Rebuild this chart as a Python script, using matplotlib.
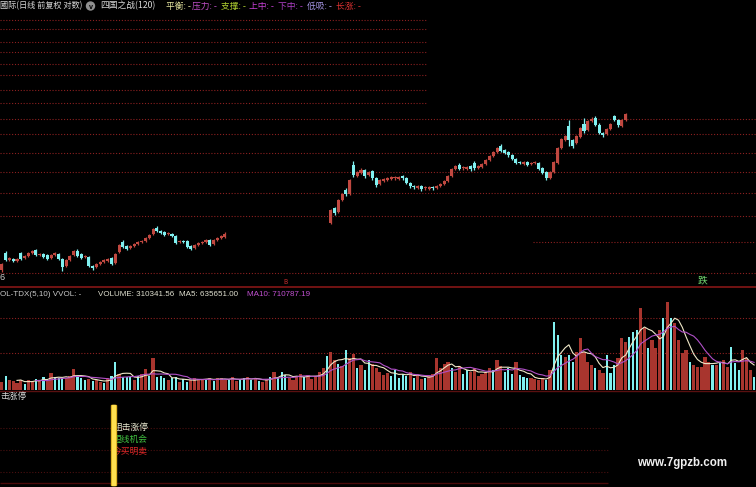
import numpy as np
import pandas as pd
import matplotlib
matplotlib.use('Agg')
import matplotlib.pyplot as plt
from matplotlib.patches import Rectangle

plt.rcParams['font.family'] = ['Noto Sans CJK SC', 'DejaVu Sans']
plt.rcParams['axes.unicode_minus'] = False

# ---- data ----
n_bars = 200
seg1_start = 0
seg2_start = 87

seg1_open = [3.0, 4.7, 4.0, 4.1, 3.9, 4.7, 4.2, 4.4, 4.7, 5.0, 4.5, 4.6, 4.5, 4.2, 4.5,
             4.6, 4.1, 3.4, 4.0, 4.5, 4.9, 4.6, 4.3, 4.3, 3.4, 3.3, 3.6, 3.8, 3.9, 4.2,
             3.7, 4.8, 5.8, 5.4, 5.2, 5.4, 5.6, 5.8, 5.9, 6.2, 6.6, 7.2, 6.9, 6.8, 6.6,
             6.6, 6.4, 5.8, 5.9, 5.9, 5.4, 5.2, 5.5, 5.7, 5.8, 6.0, 5.6, 6.0, 6.2, 6.3]
seg1_close = [3.6, 4.0, 4.2, 3.9, 4.1, 4.1, 4.4, 4.7, 4.9, 4.5, 4.6, 4.3, 4.1, 4.5, 4.7,
              4.1, 3.3, 4.0, 4.4, 4.9, 4.4, 4.2, 4.4, 3.4, 3.2, 3.6, 3.8, 4.0, 4.1, 3.6,
              4.6, 5.5, 5.3, 5.1, 5.4, 5.6, 5.8, 5.9, 6.2, 6.5, 7.1, 6.9, 6.7, 6.5, 6.7,
              6.4, 5.7, 5.9, 5.8, 5.3, 5.1, 5.5, 5.7, 5.8, 6.0, 5.5, 6.0, 6.2, 6.4, 6.6]
seg1_high = [3.7, 4.9, 4.3, 4.2, 4.2, 4.8, 4.5, 4.8, 5.0, 5.1, 4.7, 4.7, 4.6, 4.6, 4.8,
             4.7, 4.2, 4.1, 4.5, 5.0, 5.1, 4.7, 4.5, 4.4, 3.5, 3.7, 3.9, 4.1, 4.2, 4.3,
             4.7, 5.6, 6.0, 5.5, 5.5, 5.7, 5.9, 6.0, 6.3, 6.6, 7.2, 7.4, 7.0, 6.9, 6.8,
             6.7, 6.5, 6.0, 6.0, 6.0, 5.5, 5.6, 5.8, 5.9, 6.1, 6.1, 6.1, 6.3, 6.5, 6.8]
seg1_low = [2.8, 3.9, 3.9, 3.8, 3.8, 4.0, 4.1, 4.3, 4.6, 4.4, 4.4, 4.2, 4.0, 4.1, 4.4,
            4.0, 2.9, 3.3, 3.9, 4.4, 4.3, 4.1, 4.2, 3.3, 3.0, 3.2, 3.5, 3.7, 3.8, 3.5,
            3.6, 4.7, 5.2, 5.0, 5.1, 5.3, 5.5, 5.7, 5.8, 6.1, 6.5, 6.8, 6.6, 6.4, 6.5,
            6.3, 5.6, 5.7, 5.7, 5.2, 5.0, 5.1, 5.4, 5.6, 5.7, 5.4, 5.5, 5.9, 6.1, 6.2]

seg2_open = [7.7, 9.2, 8.8, 10.0, 11.0, 10.6, 13.5, 12.4, 12.7, 13.0, 12.5, 12.9, 12.2, 11.6,
             11.9, 12.0, 12.1, 12.2, 12.1, 12.4, 12.2, 11.7, 11.4, 11.2, 11.4, 11.2, 11.1,
             11.3, 11.2, 11.4, 11.6, 11.9, 12.4, 13.1, 13.5, 13.2, 13.1, 13.4, 13.7, 13.2,
             13.3, 13.6, 14.0, 14.4, 14.8, 15.4, 15.0, 14.8, 14.5, 14.1, 13.8, 13.6, 13.8,
             13.6, 13.7, 13.7, 13.2, 12.8, 12.2, 12.8, 13.7, 15.2, 16.0, 17.4, 16.0, 15.7,
             16.3, 17.6, 17.0, 17.9, 18.2, 17.5, 16.7, 16.6, 17.1, 18.4, 18.0, 17.4, 18.0]
seg2_close = [9.0, 8.7, 10.0, 10.6, 10.6, 12.0, 12.5, 12.8, 13.0, 12.4, 12.8, 12.2, 11.5, 12.0,
              12.1, 12.2, 12.3, 12.2, 12.3, 12.2, 11.7, 11.4, 11.3, 11.4, 11.1, 11.2, 11.3,
              11.2, 11.4, 11.6, 11.9, 12.4, 13.1, 13.4, 13.1, 13.2, 13.3, 13.1, 13.2, 13.4,
              13.6, 14.0, 14.4, 14.8, 15.2, 14.9, 14.7, 14.5, 14.1, 13.7, 13.7, 13.8, 13.5,
              13.7, 13.8, 13.1, 12.7, 12.2, 12.8, 13.8, 15.2, 16.1, 16.4, 16.0, 15.4, 16.4,
              17.2, 16.9, 17.9, 18.1, 17.5, 16.7, 16.5, 17.1, 17.6, 18.0, 17.5, 18.0, 18.6]
seg2_high = [9.1, 9.3, 10.1, 10.7, 11.2, 12.1, 13.9, 12.9, 13.2, 13.1, 12.9, 13.0, 12.3, 12.1,
             12.2, 12.3, 12.4, 12.4, 12.4, 12.5, 12.3, 11.8, 11.5, 11.5, 11.5, 11.4, 11.4,
             11.4, 11.5, 11.7, 12.0, 12.5, 13.2, 13.5, 13.7, 13.4, 13.4, 13.5, 13.9, 13.5,
             13.7, 14.1, 14.5, 14.9, 15.3, 15.6, 15.1, 14.9, 14.6, 14.2, 13.9, 13.9, 13.9,
             13.8, 13.9, 13.8, 13.3, 12.9, 12.9, 13.9, 15.3, 16.2, 16.5, 18.0, 16.1, 16.5,
             17.3, 18.2, 18.0, 18.3, 18.4, 17.7, 16.8, 17.2, 17.7, 18.5, 18.1, 18.1, 18.7]
seg2_low = [7.6, 8.5, 8.7, 9.9, 10.4, 10.5, 12.3, 12.3, 12.6, 12.2, 12.4, 12.0, 11.3, 11.5,
            11.8, 11.9, 12.0, 12.0, 12.0, 12.0, 11.6, 11.2, 11.1, 11.1, 10.9, 11.0, 11.0,
            11.0, 11.1, 11.3, 11.5, 11.8, 12.3, 13.0, 13.0, 13.0, 13.0, 12.9, 13.0, 13.1,
            13.2, 13.5, 13.9, 14.3, 14.7, 14.8, 14.6, 14.3, 14.0, 13.6, 13.6, 13.5, 13.4,
            13.5, 13.6, 13.0, 12.6, 12.0, 12.1, 12.7, 13.6, 15.1, 15.9, 15.4, 15.2, 15.6,
            16.2, 16.7, 16.9, 17.8, 17.4, 16.6, 16.3, 16.5, 17.0, 17.9, 17.3, 17.3, 17.9]

volume = [8, 14, 10, 9, 7, 10, 6, 10, 9, 11, 10, 13, 9, 17, 13, 12, 12, 12, 14, 21,
          13, 12, 10, 11, 9, 10, 8, 7, 12, 14, 28, 16, 13, 13, 13, 10, 14, 16, 21, 14,
          32, 13, 14, 12, 10, 12, 13, 8, 11, 8, 10, 12, 11, 11, 10, 12, 9, 12, 12, 10,
          10, 13, 9, 11, 12, 13, 10, 12, 9, 8, 11, 13, 18, 12, 18, 15, 12, 10, 14, 16,
          13, 15, 11, 14, 18, 22, 34, 38, 30, 26, 24, 40, 32, 36, 22, 25, 20, 30, 26, 22,
          18, 15, 17, 14, 20, 12, 16, 14, 18, 12, 15, 11, 12, 14, 16, 32, 22, 26, 28, 22,
          18, 24, 16, 20, 18, 22, 14, 16, 18, 22, 20, 30, 24, 18, 22, 16, 28, 15, 13, 12,
          12, 11, 10, 12, 10, 20, 68, 55, 35, 33, 35, 28, 38, 52, 38, 28, 25, 22, 20, 17,
          35, 17, 25, 32, 52, 48, 53, 58, 60, 82, 62, 42, 50, 42, 60, 72, 88, 72, 67, 50,
          37, 40, 28, 25, 23, 23, 33, 28, 25, 25, 28, 30, 23, 43, 27, 20, 40, 32, 20, 13]
volume_dir = ("rcrrrrcrrcrcrrcccrrrcccrcrrcrcc" "rcccrcrrcrccc" "rcc" "rccrrrrcrcrr"
              "rcrrcc" "rcrcrrcrcccrrr" "rcrrrr" "rcrrcrcrrcrccrrrrrcccccrcrrcr"
              "rrrrrcrrcc" "rrrrrrcrrcccrcccrrrrcrcccrcc" "rrrrrcrrcc"
              "crrrcccr" "rcrrrcrcrrrrcrrrrrcrcrrc" "ccrrrccrccrccrcccrc")

header_parts = [("國际(日线 前复权 对数)", '#d8d8d8'), ("四国之战(120)", '#d8d8d8'),
                ("平衡: -", '#e8e8a0'), ("压力: -", '#c050c8'), ("支撑: -", '#b0d030'),
                ("上中: -", '#c840d8'), ("下中: -", '#b040c8'), ("低吸: -", '#a898e8'),
                ("长涨: -", '#d83030')]
vol_header = [("OL-TDX(5,10) VVOL: -", '#c8c8c8'), ("VOLUME: 310341.56", '#e0e0d0'),
              ("MA5: 635651.00", '#e0e0d0'), ("MA10: 710787.19", '#c050d0')]
signal_texts = [("阻击涨停", '#e8e8d0'), ("短线机会", '#40c040'), ("今买明卖", '#e02828')]

levels_left = [28.0, 27.1, 25.8, 24.8, 23.6, 22.5, 21.0, 19.7]
levels_full = [18.1, 16.6, 14.7, 12.8, 10.7, 8.4, 2.7]
levels_right = [5.8]
vol_levels = [72, 37]

# ---- layout ----
W, H = 756, 487
fig = plt.figure(figsize=(W / 100, H / 100), dpi=100, facecolor='black')


def px_axes(x0, y0, x1, y1):
    a = fig.add_axes([x0 / W, 1 - y1 / H, (x1 - x0) / W, (y1 - y0) / H])
    a.set_facecolor('none')
    a.axis('off')
    return a


ax_k = px_axes(0, 0, W, 287)
ax_v = px_axes(0, 288, W, 390)
ax_o = px_axes(0, 0, W, H)
ax_o.set_xlim(0, W)
ax_o.set_ylim(H, 0)

UP = '#c04840'
DOWN = '#80f0f0'

# ---- price panel ----
ax_k.set_xlim(-0.5, n_bars - 0.5)
ax_k.set_ylim(1.3, 30.0)
dots = (0, (1, 1.6))
ax_k.hlines(levels_left, -0.5, 112.5, colors='#8c2020', linestyles=dots, lw=0.8)
ax_k.hlines(levels_full, -0.5, n_bars - 0.5, colors='#8c2020', linestyles=dots, lw=0.8)
ax_k.hlines(levels_right, 140.5, n_bars - 0.5, colors='#8c2020', linestyles=dots, lw=0.8)

for start, o, c, hi, lo in [(seg1_start, seg1_open, seg1_close, seg1_high, seg1_low),
                            (seg2_start, seg2_open, seg2_close, seg2_high, seg2_low)]:
    o, c, hi, lo = map(np.array, (o, c, hi, lo))
    x = np.arange(start, start + len(o))
    col = np.where(c >= o, UP, DOWN)
    ax_k.vlines(x, lo, hi, colors=col, lw=0.9, zorder=3)
    body = np.maximum(np.abs(c - o), 0.08)
    ax_k.bar(x, body, bottom=np.minimum(o, c), width=0.8, color=col, lw=0, zorder=4)

# ---- volume panel ----
vol = np.array(volume)
xv = np.arange(n_bars)
up = np.array([ch == 'r' for ch in volume_dir[:n_bars]])
ax_v.set_xlim(-0.5, n_bars - 0.5)
ax_v.set_ylim(0, 102)
ax_v.hlines(vol_levels, -0.5, n_bars - 0.5, colors='#8c2020', linestyles=dots, lw=0.8)
ax_v.bar(xv[up], vol[up], width=0.85, color='#a8352e', lw=0, zorder=3)
ax_v.bar(xv[~up], vol[~up], width=0.55, color=DOWN, lw=0, zorder=3)
s = pd.Series(vol, dtype=float)
ax_v.plot(xv, s.rolling(5).mean(), color='#f0e8c8', lw=0.8, zorder=4)
ax_v.plot(xv, s.rolling(10).mean(), color='#b050c8', lw=0.8, zorder=4)

# ---- overlay: separators, texts, signal panel ----
ax_o.axhline(287, color='#7a1414', lw=1.3)
ax_o.axhline(390.5, color='#5a1010', lw=1.0)
for yy in [428, 450, 472]:
    ax_o.hlines(yy, 0, 608, colors='#4a1010', linestyles=dots, lw=0.8)
ax_o.hlines(483, 0, 608, colors='#4a0a0a', lw=1.0)

hx = [0, 100, 166, 192, 221, 249, 278, 307, 336]
hs = [5.9, 6.3, 6.3, 6.3, 6.3, 6.3, 6.3, 6.3, 6.3]
for (txt, col), x0, fs in zip(header_parts, hx, hs):
    ax_o.text(x0, 6, txt, color=col, fontsize=fs, va='center', ha='left')
ax_o.add_patch(plt.Circle((90.5, 6), 4, color='#909090'))
ax_o.text(90.5, 6.3, 'v', color='black', fontsize=5, va='center', ha='center', weight='bold')

vx = [0, 98, 179, 247]
for (txt, col), x0 in zip(vol_header, vx):
    ax_o.text(x0, 294, txt, color=col, fontsize=5.8, va='center', ha='left',
              family=['Liberation Sans', 'DejaVu Sans'])

ax_o.text(0, 277, '6', color='#d0d0d0', fontsize=6.5, va='center', ha='left',
          family=['Liberation Sans'])
ax_o.text(285, 282, 'B', color='#d03030', fontsize=4.5, va='center', ha='center')
ax_o.text(703, 280, '跌', color='#70d870', fontsize=7, va='center', ha='center')
ax_o.text(0, 396, '击涨停', color='#d8d8d8', fontsize=6.3, va='center', ha='left')

for (txt, col), yy in zip(signal_texts, [427, 439, 451]):
    ax_o.text(113, yy, txt, color=col, fontsize=6.3, va='center', ha='left', zorder=3)
ax_o.add_patch(Rectangle((110.5, 405), 5.5, 80, color='#d8a818', zorder=5))
ax_o.add_patch(Rectangle((112, 405), 2.5, 80, color='#ffe050', zorder=6))

ax_o.text(682, 463, 'www.7gpzb.com', color='#f0f0f0', fontsize=8.3, weight='bold',
          va='center', ha='center', family=['Liberation Sans'])

fig.savefig('out.png', dpi=100, facecolor='black')
